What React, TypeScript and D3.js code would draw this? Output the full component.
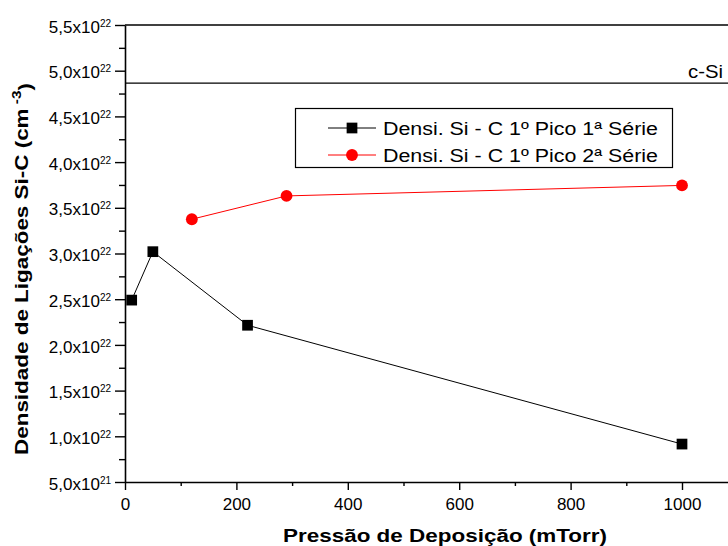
import { useEffect, useRef } from 'react';
import * as d3 from 'd3';

// dados (densidade em unidades de 1e22 cm^-3)
const pressure1 = [12, 50, 220, 1000];
const density1 = [2.49, 3.02, 2.215, 0.915];
const pressure2 = [120, 290, 1000];
const density2 = [3.375, 3.63, 3.745];
const cSi = 4.865;

const xMajor = [0, 200, 400, 600, 800, 1000];
const xMinor = [100, 300, 500, 700, 900];
const yMajor = [0.5, 1.0, 1.5, 2.0, 2.5, 3.0, 3.5, 4.0, 4.5, 5.0, 5.5];
const yMinor = [0.75, 1.25, 1.75, 2.25, 2.75, 3.25, 3.75, 4.25, 4.75, 5.25];

const series = [
  { name: 'Densi. Si - C 1º Pico 1ª Série', color: '#000000', marker: 'square', x: pressure1, y: density1 },
  { name: 'Densi. Si - C 1º Pico 2ª Série', color: '#ff0000', marker: 'circle', x: pressure2, y: density2 },
];

const FONT = 'Liberation Sans, Arial, sans-serif';

export default function App() {
  const svgRef = useRef<SVGSVGElement>(null);

  useEffect(() => {
    if (!svgRef.current) return;
    const W = 728;
    const H = 546;
    const left = 125;
    const top = 25;
    const bottom = 482;

    const svg = d3.select(svgRef.current);
    svg.selectAll('*').remove();

    const x = d3.scaleLinear().domain([0, 1000]).range([left, 682]);
    const y = d3.scaleLinear().domain([0.5, 5.5]).range([bottom, top]);

    // moldura superior
    svg.append('line').attr('x1', left).attr('x2', W).attr('y1', top).attr('y2', top)
      .attr('stroke', '#000').attr('stroke-width', 1.5);

    // eixo X
    const xAxis = svg.append('g').attr('transform', `translate(0,${bottom})`)
      .call(d3.axisBottom(x).tickValues(xMajor).tickSize(8).tickSizeOuter(0).tickPadding(8).tickFormat((d) => String(d)));
    xAxis.select('.domain').attr('d', `M${left},0.5H${W}`);
    svg.append('g').attr('transform', `translate(0,${bottom})`)
      .call(d3.axisBottom(x).tickValues(xMinor).tickSize(4).tickFormat(() => ''))
      .select('.domain').remove();

    // eixo Y
    const yAxis = svg.append('g').attr('transform', `translate(${left},0)`)
      .call(d3.axisLeft(y).tickValues(yMajor).tickSize(10).tickSizeOuter(0).tickPadding(4).tickFormat(() => ''));
    svg.append('g').attr('transform', `translate(${left},0)`)
      .call(d3.axisLeft(y).tickValues(yMinor).tickSize(6).tickFormat(() => ''))
      .select('.domain').remove();

    yAxis.selectAll<SVGTextElement, number>('.tick text').each(function (d) {
      const t = d3.select(this);
      const exp = d < 1 ? 21 : 22;
      const mant = d < 1 ? d * 10 : d;
      t.text(null).attr('dy', '0.42em');
      t.append('tspan').text(`${mant.toFixed(1).replace('.', ',')}x10`);
      t.append('tspan').attr('dy', '-0.6em').attr('font-size', 10).text(String(exp));
    });

    svg.selectAll('.domain').attr('stroke', '#000').attr('stroke-width', 1.6);
    svg.selectAll('.tick line').attr('stroke', '#000').attr('stroke-width', 1.4);
    svg.selectAll('.tick text').attr('fill', '#000').style('font-size', '17px').style('font-family', FONT);

    // linha c-Si
    svg.append('line').attr('x1', left).attr('x2', W).attr('y1', y(cSi)).attr('y2', y(cSi))
      .attr('stroke', '#000').attr('stroke-width', 1.3);
    svg.append('text').attr('x', 688).attr('y', y(cSi) - 5)
      .attr('textLength', 35).attr('lengthAdjust', 'spacingAndGlyphs')
      .style('font-family', FONT).style('font-size', '18px').text('c-Si');

    // séries
    for (const s of series) {
      const pts = s.x.map((v, i) => [v, s.y[i]] as [number, number]);
      svg.append('path')
        .attr('d', d3.line().x((d) => x(d[0])).y((d) => y(d[1]))(pts))
        .attr('fill', 'none').attr('stroke', s.color).attr('stroke-width', 1);
      const sym = d3.symbol().type(s.marker === 'square' ? d3.symbolSquare : d3.symbolCircle)
        .size(s.marker === 'square' ? 115 : 110);
      svg.append('g').selectAll('path').data(pts).enter().append('path')
        .attr('transform', (d) => `translate(${x(d[0])},${y(d[1])})`)
        .attr('d', sym).attr('fill', s.color);
    }

    // legenda
    const lg = svg.append('g').attr('transform', 'translate(295,108)');
    lg.append('rect').attr('x', 0.5).attr('y', 0.5).attr('width', 377).attr('height', 59)
      .attr('fill', '#fff').attr('stroke', '#000').attr('stroke-width', 1.2);
    series.forEach((s, i) => {
      const cy = 20 + i * 27;
      lg.append('line').attr('x1', 33).attr('x2', 81).attr('y1', cy).attr('y2', cy)
        .attr('stroke', s.color).attr('stroke-width', 1);
      const sym = d3.symbol().type(s.marker === 'square' ? d3.symbolSquare : d3.symbolCircle)
        .size(s.marker === 'square' ? 115 : 110);
      lg.append('path').attr('transform', `translate(57,${cy})`).attr('d', sym).attr('fill', s.color);
      lg.append('text').attr('x', 88).attr('y', cy + 6.5)
        .attr('textLength', 275).attr('lengthAdjust', 'spacingAndGlyphs')
        .style('font-family', FONT).style('font-size', '18px').text(s.name);
    });

    // títulos
    svg.append('text').attr('x', 283).attr('y', 542)
      .attr('textLength', 324).attr('lengthAdjust', 'spacingAndGlyphs')
      .style('font-family', FONT).style('font-size', '17.5px').style('font-weight', 'bold')
      .text('Pressão de Deposição (mTorr)');

    const yt = svg.append('text').attr('transform', 'translate(28,455) rotate(-90)')
      .attr('textLength', 372).attr('lengthAdjust', 'spacingAndGlyphs')
      .style('font-family', FONT).style('font-size', '17.5px').style('font-weight', 'bold');
    yt.append('tspan').text('Densidade de Ligações Si-C (cm');
    yt.append('tspan').attr('dy', '-0.6em').attr('font-size', 12).text(' -3');
    yt.append('tspan').attr('dy', '0.6em').text(')');

    svg.attr('width', W).attr('height', H);
  }, []);

  return (
    <svg ref={svgRef} width={728} height={546}
      style={{ position: 'absolute', left: 0, top: 0, background: '#fff', display: 'block' }} />
  );
}
